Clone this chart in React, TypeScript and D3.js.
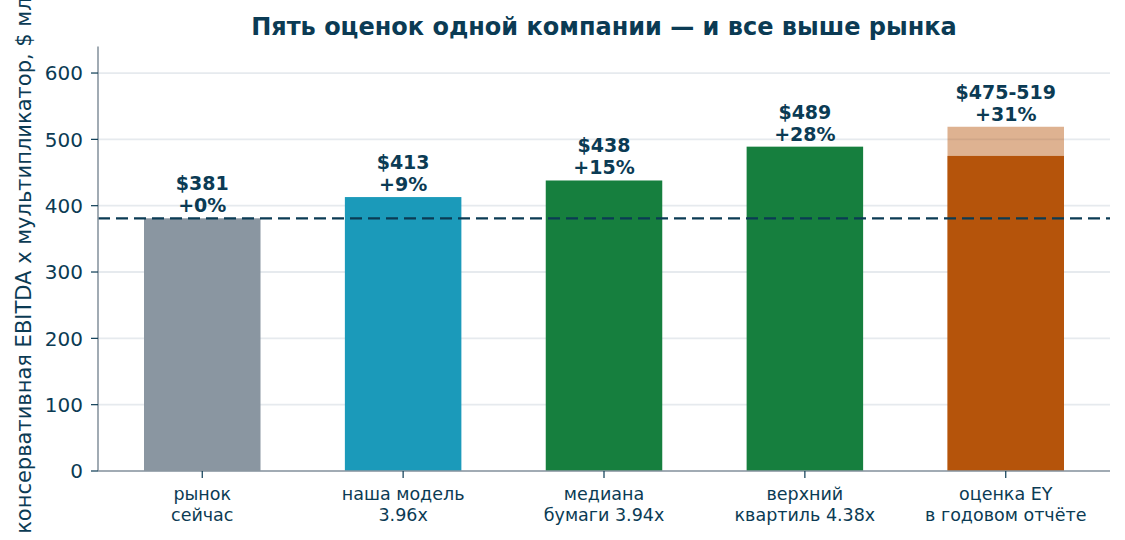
import React from 'react';
import * as d3 from 'd3';

const categories = [
  ['рынок', 'сейчас'],
  ['наша модель', '3.96x'],
  ['медиана', 'бумаги 3.94x'],
  ['верхний', 'квартиль 4.38x'],
  ['оценка EY', 'в годовом отчёте'],
];
const values = [381, 413, 438, 489, 475];
const rangeTop = [null, null, null, null, 519];
const valueLabels = ['$381', '$413', '$438', '$489', '$475-519'];
const pctLabels = ['+0%', '+9%', '+15%', '+28%', '+31%'];
const barColors = ['#8a96a1', '#1b9aba', '#167f3e', '#167f3e', '#b5540b'];
const yTicks = [0, 100, 200, 300, 400, 500, 600];
const marketValue = 381;

const W = 1125;
const H = 540;
const navy = '#0b3b54';
const spine = '#8a96a1';
const font = 'DejaVu Sans, sans-serif';

function App() {
  const x = d3.scaleLinear().domain([-0.519, 4.519]).range([98, 1110]);
  const y = d3.scaleLinear().domain([0, 640]).range([471, 46.5]);
  const barW = x(0.58) - x(0);

  return (
    <svg width={W} height={H} style={{position: 'absolute', left: 0, top: 0, background: '#fff'}}
         fontFamily={font}>
      <rect width={W} height={H} fill="#fff"/>
      {/* grid */}
      {yTicks.map(t => (
        <line key={'g' + t} x1={x(-0.519)} x2={x(4.519)} y1={y(t)} y2={y(t)}
              stroke="#e6eaee" strokeWidth={1.8}/>
      ))}
      {/* bars */}
      {values.map((v, i) => (
        <g key={'b' + i}>
          {rangeTop[i] != null && (
            <rect x={x(i) - barW / 2} width={barW} y={y(rangeTop[i] as number)}
                  height={y(0) - y(rangeTop[i] as number)} fill={barColors[i]} opacity={0.45}/>
          )}
          <rect x={x(i) - barW / 2} width={barW} y={y(v)} height={y(0) - y(v)} fill={barColors[i]}/>
          <text x={x(i)} y={y(rangeTop[i] ?? v) - 28} textAnchor="middle" fontSize={19}
                fontWeight="bold" fill={navy}>{valueLabels[i]}</text>
          <text x={x(i)} y={y(rangeTop[i] ?? v) - 6} textAnchor="middle" fontSize={19}
                fontWeight="bold" fill={navy}>{pctLabels[i]}</text>
        </g>
      ))}
      {/* market line */}
      <line x1={x(-0.519)} x2={x(4.519)} y1={y(marketValue)} y2={y(marketValue)}
            stroke={navy} strokeWidth={2.2} strokeDasharray="12,6"/>
      {/* spines */}
      <line x1={x(-0.519)} x2={x(-0.519)} y1={y(640)} y2={y(0)} stroke={spine} strokeWidth={1.6}/>
      <line x1={x(-0.519)} x2={x(4.519)} y1={y(0)} y2={y(0)} stroke={spine} strokeWidth={1.6}/>
      {/* y ticks */}
      {yTicks.map(t => (
        <g key={'y' + t}>
          <line x1={x(-0.519) - 7} x2={x(-0.519)} y1={y(t)} y2={y(t)} stroke={navy} strokeWidth={1.2}/>
          <text x={x(-0.519) - 15} y={y(t)} dy="0.36em" textAnchor="end" fontSize={20} fill={navy}>{t}</text>
        </g>
      ))}
      {/* x ticks */}
      {categories.map((c, i) => (
        <g key={'x' + i}>
          <line x1={x(i)} x2={x(i)} y1={y(0)} y2={y(0) + 7} stroke={navy} strokeWidth={1.2}/>
          <text x={x(i)} y={500} textAnchor="middle" fontSize={17.5} fill={navy}>{c[0]}</text>
          <text x={x(i)} y={521} textAnchor="middle" fontSize={17.5} fill={navy}>{c[1]}</text>
        </g>
      ))}
      {/* y label */}
      <text transform={`translate(31,${(y(0) + y(640)) / 2}) rotate(-90)`} textAnchor="middle"
            fontSize={21} fill={navy}>консервативная EBITDA x мультипликатор, $ млн</text>
      {/* title */}
      <text x={(x(-0.519) + x(4.519)) / 2} y={35} textAnchor="middle" fontSize={24}
            fontWeight="bold" fill={navy}>Пять оценок одной компании — и все выше рынка</text>
    </svg>
  );
}

export default App;
